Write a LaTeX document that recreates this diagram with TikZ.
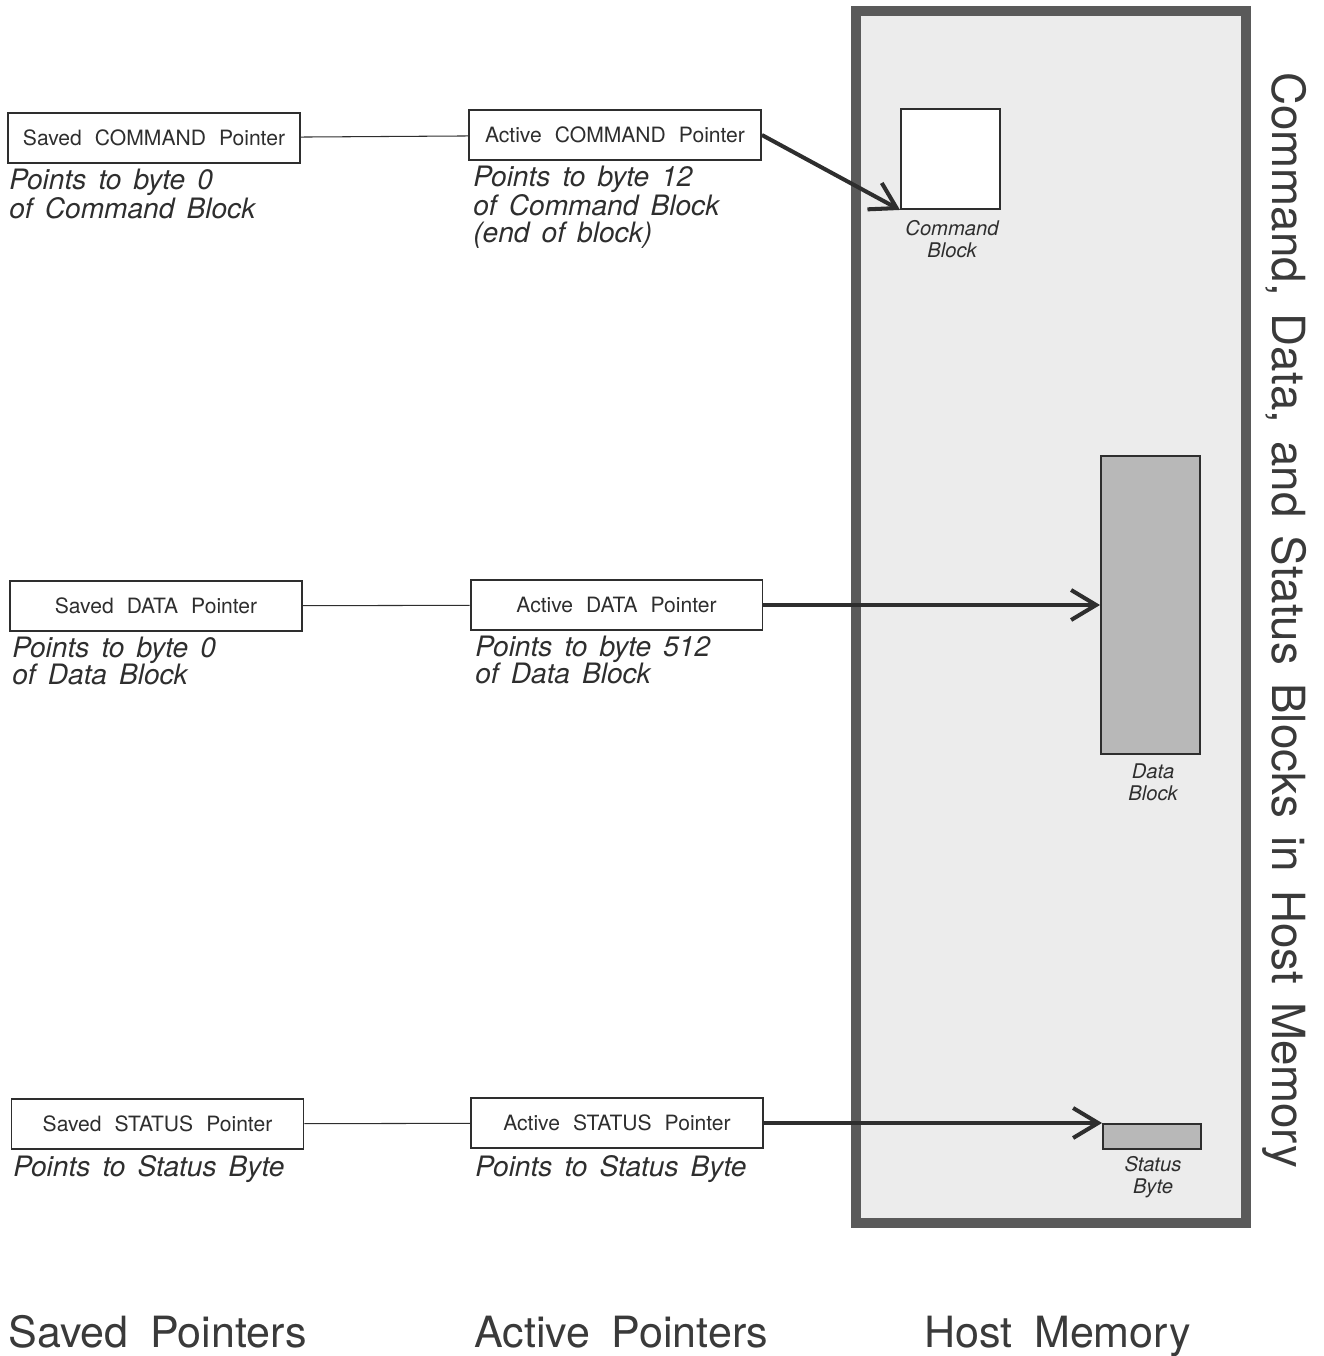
\documentclass[tikz,border=0pt]{standalone}
\usepackage{fontspec}
\setmainfont{TeX Gyre Heros}
\usetikzlibrary{arrows.meta}
\definecolor{inkgray}{HTML}{2E2E2E}
\definecolor{titlegray}{HTML}{3A3A3A}
\definecolor{framegray}{HTML}{5A5A5A}
\definecolor{memfill}{HTML}{ECECEC}
\definecolor{blockfill}{HTML}{B8B8B8}
\newcommand\boxfont{\fontsize{12}{14}\selectfont\spaceskip 0.62em\relax}
\newcommand\notefont{\fontsize{16}{15.4}\selectfont\itshape\spaceskip 0.43em\relax}
\newcommand\coltitlefont{\fontsize{24.5}{28}\selectfont\spaceskip 0.5em\relax}
\newcommand\sidetitlefont{\fontsize{26}{28}\selectfont\spaceskip 0.4em\relax}
\begin{document}
\begin{tikzpicture}[x=0.02cm,y=-0.02cm,
                    ptr box/.style={draw=inkgray,line width=1.1pt,minimum width=5.84cm,minimum height=1cm,
                                    inner sep=0pt,text=inkgray,font=\boxfont},
                    ptr note/.style={anchor=north west,align=left,inner sep=0pt,text=inkgray,font=\notefont},
                    blk label/.style={align=center,inner sep=0pt,text=inkgray,
                                      font=\fontsize{11.5}{12.5}\selectfont\itshape},
                    col title/.style={anchor=base west,inner sep=0pt,text=titlegray,font=\coltitlefont},
                    link/.style={draw=inkgray,line width=0.6pt},
                    ptr arrow/.style={draw=inkgray,line width=2.3pt,-{Straight Barb[length=0.5cm,width=0.6cm,line width=2.3pt]}}
                   ]
  \useasboundingbox (0,0) rectangle (1324,1356);

  % host memory
  \node[draw=framegray,line width=5.7pt,fill=memfill,minimum width=7.8cm,minimum height=24.24cm] (mem) at (1051,617) {};
  \node[draw=inkgray,line width=1.1pt,fill=white,minimum width=1.98cm,minimum height=2cm] (cmdblk) at (950.5,159) {};
  \node[draw=inkgray,line width=1.1pt,fill=blockfill,minimum width=1.98cm,minimum height=5.96cm] (datablk) at (1150.5,605) {};
  \node[draw=inkgray,line width=1.1pt,fill=blockfill,minimum width=1.96cm,minimum height=0.5cm] (statblk) at (1152,1136.5) {};
  \node[blk label] (cmdlbl) at (952,239) {Command\\Block};
  \node[blk label] (datalbl) at (1153,782) {Data\\Block};
  \node[blk label] (statlbl) at (1153,1177) {Status\\Byte};

  % saved pointers
  \node[ptr box] (savedcmd) at (154,138) {Saved COMMAND Pointer};
  \node[ptr box] (saveddata) at (156,606) {Saved DATA Pointer};
  \node[ptr box] (savedstat) at (157.5,1124) {Saved STATUS Pointer};
  \node[ptr note] (savedcmdnote) at (9,169) {Points to byte 0\\of Command Block};
  \node[ptr note] (saveddatanote) at (12,637) {Points to byte 0\\of Data Block};
  \node[ptr note] (savedstatnote) at (13,1155) {Points to Status Byte};

  % active pointers
  \node[ptr box] (activecmd) at (615,135) {Active COMMAND Pointer};
  \node[ptr box] (activedata) at (616.5,605) {Active DATA Pointer};
  \node[ptr box] (activestat) at (617,1123) {Active STATUS Pointer};
  \node[ptr note] (activecmdnote) at (473,166) {Points to byte 12\\of Command Block\\(end of block)};
  \node[ptr note] (activedatanote) at (475,636) {Points to byte 512\\of Data Block};
  \node[ptr note] (activestatnote) at (475,1155) {Points to Status Byte};

  \path[link] (savedcmd) -- (activecmd);
  \path[link] (saveddata) -- (activedata);
  \path[link] (savedstat) -- (activestat);

  \path[ptr arrow] (activecmd.east) -- (cmdblk.south west);
  \path[ptr arrow] (activedata.east) -- (datablk.west);
  \path[ptr arrow] (activestat.east) -- (activestat.east -| statblk.west);

  % titles
  \node[col title] (savedtitle) at (8,1347) {Saved Pointers};
  \node[col title] (activetitle) at (474,1347) {Active Pointers};
  \node[col title] (memtitle) at (924,1347) {Host Memory};
  \node[rotate=-90,anchor=base west,inner sep=0pt,text=titlegray,font=\sidetitlefont]
       (sidetitle) at (1272,72) {Command, Data, and Status Blocks in Host Memory};
\end{tikzpicture}
\end{document}
